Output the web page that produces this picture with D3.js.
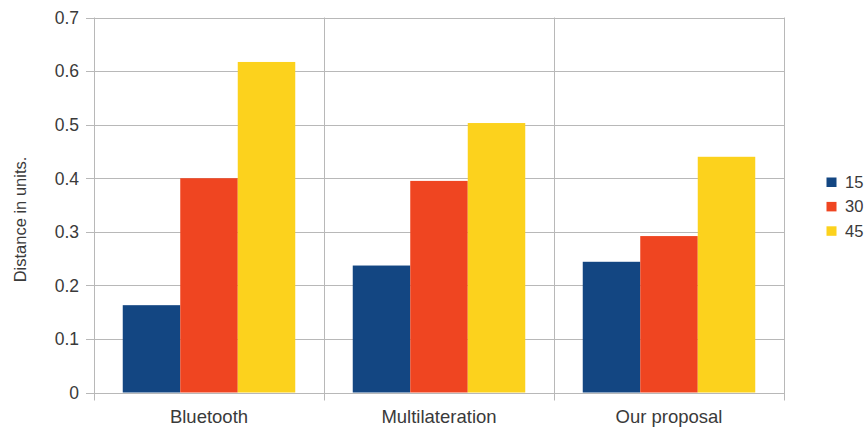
<!DOCTYPE html>
<html>
<head>
<meta charset="utf-8">
<script src="https://cdn.jsdelivr.net/npm/d3@7"></script>
<style>
  body { margin: 0; background: #fff; }
  svg { display: block; font-family: "Liberation Sans", Arial, sans-serif; }
</style>
</head>
<body>
<div id="chart"></div>
<script>
// Chart data
const categories = ["Bluetooth", "Multilateration", "Our proposal"];
const seriesNames = ["15", "30", "45"];
const values15 = [0.163, 0.237, 0.244];
const values30 = [0.400, 0.395, 0.292];
const values45 = [0.617, 0.503, 0.440];
const yTicks = [0, 0.1, 0.2, 0.3, 0.4, 0.5, 0.6, 0.7];
const colors = ["#134682", "#ef4521", "#fcd21d"];

const width = 868, height = 427;
const margin = { top: 17.5, right: 84, bottom: 34.5, left: 94 };

const svg = d3.select("#chart").append("svg")
  .attr("width", width)
  .attr("height", height);

const x0 = d3.scaleBand()
  .domain(categories)
  .range([margin.left, width - margin.right])
  .padding(0);

const x1 = d3.scaleBand()
  .domain(seriesNames)
  .range([x0.bandwidth() * 0.125, x0.bandwidth() * 0.875])
  .padding(0);

const y = d3.scaleLinear()
  .domain([0, 0.7])
  .range([height - margin.bottom, margin.top]);

const grid = "#b8b8b8";
const textColor = "#3a3a3a";
const plotRight = width - margin.right;
const plotBottom = height - margin.bottom;

// Horizontal grid lines with tick stubs
svg.append("g")
  .selectAll("line")
  .data(yTicks)
  .join("line")
  .attr("x1", margin.left - 8)
  .attr("x2", plotRight)
  .attr("y1", d => Math.round(y(d)) + 0.5)
  .attr("y2", d => Math.round(y(d)) + 0.5)
  .attr("stroke", grid)
  .attr("stroke-width", 1);

// Vertical separators (left axis, category boundaries, right edge)
const seps = categories.map(c => x0(c)).concat([plotRight]);
svg.append("g")
  .selectAll("line")
  .data(seps)
  .join("line")
  .attr("x1", d => Math.round(d) + 0.5)
  .attr("x2", d => Math.round(d) + 0.5)
  .attr("y1", margin.top)
  .attr("y2", plotBottom + 8)
  .attr("stroke", grid)
  .attr("stroke-width", 1);

// Bars
const series = [values15, values30, values45];
const groups = svg.append("g")
  .selectAll("g")
  .data(categories)
  .join("g")
  .attr("transform", d => `translate(${x0(d)},0)`);

groups.selectAll("rect")
  .data((d, i) => seriesNames.map((s, j) => ({ s, v: series[j][i], c: colors[j] })))
  .join("rect")
  .attr("x", d => x1(d.s))
  .attr("width", x1.bandwidth())
  .attr("y", d => y(d.v))
  .attr("height", d => y(0) - y(d.v))
  .attr("fill", d => d.c);

// Y tick labels
svg.append("g")
  .selectAll("text")
  .data(yTicks)
  .join("text")
  .attr("x", 79)
  .attr("y", d => y(d) + 6.3)
  .attr("text-anchor", "end")
  .attr("font-size", 17.5)
  .attr("fill", textColor)
  .text(d => d === 0 ? "0" : d.toFixed(1));

// Category labels
svg.append("g")
  .selectAll("text")
  .data(categories)
  .join("text")
  .attr("x", d => x0(d) + x0.bandwidth() / 2)
  .attr("y", 422.5)
  .attr("text-anchor", "middle")
  .attr("font-size", 18.5)
  .attr("fill", textColor)
  .text(d => d);

// Y axis title
svg.append("text")
  .attr("transform", "translate(25.5,219.5) rotate(-90)")
  .attr("text-anchor", "middle")
  .attr("font-size", 16.5)
  .attr("fill", textColor)
  .text("Distance in units.");

// Legend
const legend = svg.append("g")
  .selectAll("g")
  .data(seriesNames)
  .join("g")
  .attr("transform", (d, i) => `translate(826.5,${177.5 + i * 24.4})`);

legend.append("rect")
  .attr("width", 10)
  .attr("height", 9.5)
  .attr("fill", (d, i) => colors[i]);

legend.append("text")
  .attr("x", 18.5)
  .attr("y", 10.5)
  .attr("font-size", 16.5)
  .attr("fill", textColor)
  .text(d => d);
</script>
</body>
</html>
